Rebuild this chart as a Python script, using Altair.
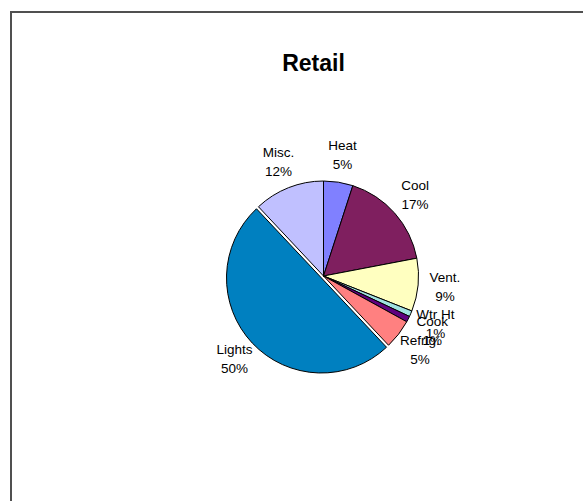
import altair as alt
import pandas as pd

categories = ["Heat", "Cool", "Vent.", "Wtr Ht", "Cook", "Refrig.", "Lights", "Misc."]
shares = [5, 17, 9, 1, 1, 5, 50, 12]
colors = ["#8080FF", "#7F1F5F", "#FFFFC0", "#A0E0E0", "#600080", "#FF8080", "#0080C0", "#C0C0FF"]

df = pd.DataFrame({"cat": categories, "value": shares, "idx": list(range(len(categories)))})

base = alt.Chart(df).transform_calculate(
    label="[datum.cat, datum.value + '%']"
).encode(
    theta=alt.Theta("value:Q", stack=True),
    order=alt.Order("idx:Q"),
)

color = alt.Color("cat:N", scale=alt.Scale(domain=categories, range=colors), legend=None)

main = base.mark_arc(radius=95, stroke="black", strokeWidth=1).encode(
    color=color,
    opacity=alt.condition(alt.datum.cat == "Lights", alt.value(0), alt.value(1)),
)

lights = base.mark_arc(radius=95, stroke="black", strokeWidth=1, xOffset=-2, yOffset=2).encode(
    color=color,
    opacity=alt.condition(alt.datum.cat == "Lights", alt.value(1), alt.value(0)),
)

labels = base.mark_text(
    radius=122, font="Liberation Sans", fontSize=13.5, lineHeight=19, dy=-9.5,
    color="black", align="center", baseline="middle",
).encode(text="label:N")

chart = alt.layer(main, lights, labels, view=alt.ViewBackground(stroke="#505050", strokeWidth=2)).properties(
    width=625,
    height=528,
    padding={"left": 11, "top": 12, "right": -53, "bottom": -39},
    autosize=alt.AutoSizeParams(type="none"),
    title=alt.TitleParams(
        "Retail", font="Liberation Sans", fontSize=23, fontWeight="bold",
        color="black", anchor="middle", baseline="alphabetic", offset=-82, dx=-10,
    ),
).configure_view(stroke="#505050", strokeWidth=2)

chart.save("out.html", embed_options={"renderer": "svg", "actions": False})
